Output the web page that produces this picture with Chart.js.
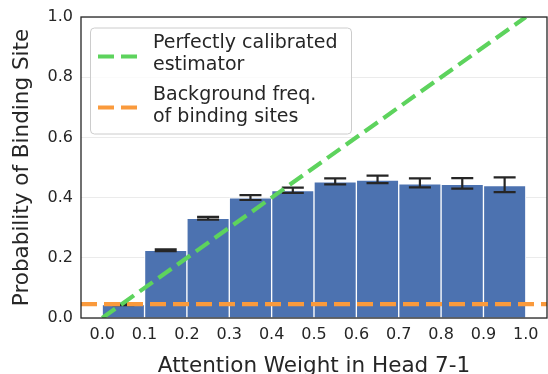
<!DOCTYPE html>
<html>
<head>
<meta charset="utf-8">
<script src="https://cdn.jsdelivr.net/npm/chart.js@4"></script>
<style>
  html, body { margin: 0; padding: 0; background: #fff; }
  #wrap { width: 548px; height: 374px; }
</style>
</head>
<body>
<div id="wrap"><canvas id="chart" width="548" height="374"></canvas></div>
<script>
// bins of attention weight (centres) and observed probability per bin
const binCenters = [0.05, 0.15, 0.25, 0.35, 0.45, 0.55, 0.65, 0.75, 0.85, 0.95];
const probability = [0.045, 0.225, 0.331, 0.399, 0.423, 0.452, 0.458, 0.446, 0.444, 0.440];
const errLow  = [0.043, 0.222, 0.327, 0.392, 0.416, 0.444, 0.448, 0.434, 0.430, 0.418];
const errHigh = [0.047, 0.228, 0.336, 0.408, 0.433, 0.464, 0.473, 0.464, 0.465, 0.467];

const calibratedX = [0, 1];
const calibratedY = [0, 1];
const backgroundX = [-0.05, 1.05];
const backgroundFreq = [0.046, 0.046];

const xTicks = [0.0, 0.1, 0.2, 0.3, 0.4, 0.5, 0.6, 0.7, 0.8, 0.9, 1.0];
const yTicks = [0.0, 0.2, 0.4, 0.6, 0.8, 1.0];

const legendItems = [
  { lines: ['Perfectly calibrated', 'estimator'], color: '#5dd35d' },
  { lines: ['Background freq.', 'of binding sites'], color: '#fa9a3c' }
];

const FONT = 'DejaVu Sans';
const INK = '#262626';

const errorBars = {
  id: 'errorBars',
  afterDatasetDraw(chart, args) {
    if (args.index !== 0) return;
    const c = chart.ctx, xs = chart.scales.x, ys = chart.scales.y;
    c.save();
    c.strokeStyle = INK;
    c.lineWidth = 2.2;
    for (let i = 0; i < binCenters.length; i++) {
      const px = xs.getPixelForValue(binCenters[i]);
      const lo = ys.getPixelForValue(errLow[i]);
      const hi = ys.getPixelForValue(errHigh[i]);
      c.beginPath();
      c.moveTo(px, lo); c.lineTo(px, hi);
      c.moveTo(px - 11, lo); c.lineTo(px + 11, lo);
      c.moveTo(px - 11, hi); c.lineTo(px + 11, hi);
      c.stroke();
    }
    c.restore();
  }
};

const frameAndLegend = {
  id: 'frameAndLegend',
  afterDraw(chart) {
    const c = chart.ctx, a = chart.chartArea;
    c.save();
    c.strokeStyle = INK;
    c.lineWidth = 1.3;
    c.strokeRect(a.left, a.top, a.right - a.left, a.bottom - a.top);

    // legend box
    const bx = 90.5, by = 28, bw = 261, bh = 106, r = 4;
    c.beginPath();
    c.roundRect(bx, by, bw, bh, r);
    c.fillStyle = 'rgba(255,255,255,0.8)';
    c.fill();
    c.strokeStyle = '#cccccc';
    c.lineWidth = 1;
    c.stroke();

    c.font = '19px "' + FONT + '"';
    c.fillStyle = INK;
    c.textBaseline = 'middle';
    const rows = [[43, 65, 56.5], [95, 117, 107.5]];
    legendItems.forEach((item, k) => {
      c.beginPath();
      c.setLineDash([16, 7]);
      c.strokeStyle = item.color;
      c.lineWidth = 4.2;
      c.moveTo(98, rows[k][2]); c.lineTo(138, rows[k][2]);
      c.stroke();
      c.setLineDash([]);
      c.fillText(item.lines[0], 153, rows[k][0]);
      c.fillText(item.lines[1], 153, rows[k][1]);
    });
    c.restore();
  }
};

const ctx = document.getElementById('chart').getContext('2d');

const chart = new Chart(ctx, {
  type: 'bar',
  data: {
    datasets: [
      {
        label: 'Probability',
        data: binCenters.map((x, i) => ({ x: x, y: probability[i] })),
        backgroundColor: '#4c72b0',
        borderColor: '#ffffff',
        borderWidth: 1,
        borderSkipped: 'bottom',
        categoryPercentage: 1,
        barPercentage: 1,
        order: 3
      },
      {
        type: 'line',
        label: 'Perfectly calibrated estimator',
        data: calibratedX.map((x, i) => ({ x: x, y: calibratedY[i] })),
        borderColor: legendItems[0].color,
        borderWidth: 4.2,
        borderDash: [16, 7],
        pointRadius: 0,
        order: 1
      },
      {
        type: 'line',
        label: 'Background freq. of binding sites',
        data: backgroundX.map((x, i) => ({ x: x, y: backgroundFreq[i] })),
        borderColor: legendItems[1].color,
        borderWidth: 4.2,
        borderDash: [16, 7],
        pointRadius: 0,
        order: 2
      }
    ]
  },
  options: {
    responsive: false,
    animation: false,
    layout: { padding: { top: 17, right: 1, left: 0, bottom: 0 } },
    plugins: {
      legend: { display: false },
      tooltip: { enabled: false }
    },
    scales: {
      x: {
        type: 'linear',
        offset: false,
        min: -0.05,
        max: 1.05,
        afterBuildTicks: s => { s.ticks = xTicks.map(v => ({ value: v })); },
        afterFit: s => { s.height = 56; s.paddingLeft = 0; s.paddingRight = 0; },
        grid: { display: false, drawTicks: false, offset: false },
        border: { display: false },
        ticks: {
          padding: 7,
          color: INK,
          font: { family: FONT, size: 16 },
          callback: v => v.toFixed(1)
        },
        title: {
          display: true,
          text: 'Attention Weight in Head 7-1',
          color: INK,
          font: { family: FONT, size: 21.5 },
          padding: { top: 0, bottom: -5 }
        }
      },
      y: {
        min: 0,
        max: 1,
        afterBuildTicks: s => { s.ticks = yTicks.map(v => ({ value: v })); },
        afterFit: s => { s.width = 81; s.paddingTop = 0; s.paddingBottom = 0; },
        grid: { color: '#ebebeb', lineWidth: 1, drawTicks: false },
        border: { display: false },
        ticks: {
          padding: 8,
          color: INK,
          font: { family: FONT, size: 16 },
          callback: v => v.toFixed(1)
        },
        title: {
          display: true,
          text: 'Probability of Binding Site',
          color: INK,
          font: { family: FONT, size: 21.5 },
          padding: { top: 10, bottom: 0 }
        }
      }
    }
  },
  plugins: [errorBars, frameAndLegend]
});
</script>
</body>
</html>
